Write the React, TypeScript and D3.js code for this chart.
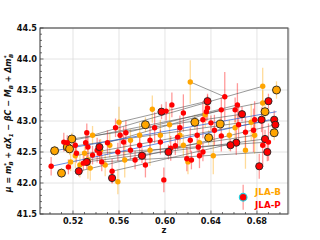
import * as d3 from "d3";

const zTicks = [0.52, 0.56, 0.6, 0.64, 0.68];
const muTicks = [41.5, 42.0, 42.5, 43.0, 43.5, 44.0, 44.5];

// [z, mu, err, ringed]
const jlaB: [number, number, number, number][] = [
  [0.504, 42.52, 0.08, 1], [0.510, 42.16, 0.08, 1], [0.515, 42.58, 0.1, 1],
  [0.517, 42.55, 0.1, 1], [0.519, 42.71, 0.1, 1], [0.518, 42.34, 0.15, 0],
  [0.522, 42.44, 0.2, 0], [0.537, 42.77, 0.15, 0], [0.533, 42.37, 0.3, 0],
  [0.535, 42.24, 0.2, 0], [0.544, 42.53, 0.18, 0], [0.559, 42.02, 0.2, 0],
  [0.560, 42.98, 0.25, 0], [0.589, 43.19, 0.22, 0], [0.622, 43.63, 0.35, 0],
  [0.685, 43.56, 0.3, 0], [0.697, 43.50, 0.14, 1], [0.685, 43.29, 0.2, 0],
  [0.687, 43.15, 0.12, 1], [0.675, 42.98, 0.3, 0], [0.695, 42.81, 0.12, 1],
  [0.670, 42.53, 0.3, 0], [0.638, 42.73, 0.12, 1], [0.642, 42.44, 0.3, 0],
  [0.620, 42.34, 0.2, 0], [0.616, 42.61, 0.18, 0], [0.630, 42.65, 0.15, 0],
  [0.626, 42.98, 0.12, 1], [0.648, 42.95, 0.1, 1], [0.635, 43.10, 0.2, 0],
  [0.570, 42.69, 0.18, 0], [0.578, 42.77, 0.2, 0], [0.552, 42.61, 0.2, 0],
  [0.565, 42.37, 0.28, 0], [0.587, 42.53, 0.25, 0], [0.596, 42.77, 0.25, 0],
  [0.604, 42.94, 0.3, 0], [0.583, 42.94, 0.12, 1], [0.661, 42.89, 0.2, 0],
  [0.678, 42.77, 0.3, 0], [0.530, 42.48, 0.15, 0], [0.548, 42.29, 0.18, 0],
  [0.526, 42.29, 0.2, 0], [0.613, 42.77, 0.2, 0], [0.656, 42.77, 0.25, 0],
];

const jlaP: [number, number, number, number][] = [
  [0.501, 42.27, 0.15, 0], [0.512, 42.66, 0.15, 0], [0.515, 42.65, 0.12, 0],
  [0.516, 42.26, 0.12, 0], [0.522, 42.61, 0.14, 0], [0.523, 42.48, 0.15, 0],
  [0.525, 42.19, 0.08, 1], [0.532, 42.81, 0.15, 0], [0.531, 42.65, 0.12, 0],
  [0.533, 42.58, 0.2, 0], [0.532, 42.34, 0.12, 1], [0.529, 42.32, 0.12, 0],
  [0.537, 42.45, 0.15, 0], [0.541, 42.53, 0.2, 0], [0.543, 42.48, 0.12, 0],
  [0.545, 42.34, 0.15, 0], [0.550, 42.65, 0.2, 0], [0.564, 42.66, 0.25, 0],
  [0.566, 42.81, 0.2, 0], [0.554, 42.08, 0.08, 1], [0.554, 42.19, 0.2, 0],
  [0.597, 43.15, 0.12, 1], [0.601, 43.16, 0.15, 0], [0.606, 43.26, 0.2, 0],
  [0.616, 43.13, 0.3, 0], [0.652, 43.39, 0.4, 0], [0.637, 43.32, 0.12, 1],
  [0.637, 43.21, 0.2, 0], [0.636, 43.15, 0.15, 0], [0.649, 43.18, 0.2, 0],
  [0.633, 43.02, 0.3, 0], [0.640, 42.97, 0.12, 0], [0.690, 43.32, 0.12, 1],
  [0.663, 43.26, 0.35, 0], [0.661, 43.18, 0.2, 0], [0.667, 43.11, 0.12, 1],
  [0.684, 43.02, 0.2, 1], [0.695, 43.02, 0.15, 1], [0.678, 43.02, 0.3, 0],
  [0.696, 42.94, 0.12, 1], [0.664, 42.94, 0.3, 0], [0.662, 42.65, 0.2, 1],
  [0.687, 42.71, 0.15, 1], [0.690, 42.66, 0.3, 0], [0.685, 42.61, 0.35, 0],
  [0.689, 42.50, 0.15, 1], [0.682, 42.27, 0.2, 1], [0.599, 42.05, 0.2, 0],
  [0.619, 42.39, 0.2, 0], [0.623, 42.37, 0.15, 0], [0.630, 42.44, 0.2, 0],
  [0.605, 42.56, 0.2, 0], [0.609, 42.60, 0.15, 0], [0.633, 42.50, 0.15, 0],
  [0.629, 42.58, 0.12, 0], [0.657, 42.61, 0.1, 1], [0.649, 42.76, 0.25, 0],
  [0.611, 42.74, 0.2, 0], [0.603, 42.50, 0.12, 1], [0.628, 42.77, 0.25, 0],
  [0.677, 42.85, 0.35, 0], [0.570, 42.53, 0.15, 0], [0.578, 42.61, 0.2, 0],
  [0.587, 42.69, 0.25, 0], [0.574, 42.37, 0.15, 0], [0.583, 42.29, 0.2, 0],
  [0.591, 42.89, 0.25, 0], [0.559, 42.50, 0.15, 0], [0.561, 42.77, 0.2, 0],
  [0.543, 42.58, 0.12, 1], [0.580, 42.44, 0.12, 1], [0.613, 42.89, 0.2, 0],
  [0.622, 42.69, 0.2, 0], [0.643, 42.85, 0.25, 0], [0.670, 42.82, 0.25, 0],
  [0.596, 42.66, 0.2, 0], [0.557, 42.89, 0.15, 0],
];

// [z1, mu1, z2, mu2]
const greyLinks: [number, number, number, number][] = [
  [0.622, 43.63, 0.652, 43.39], [0.537, 42.77, 0.685, 43.56],
  [0.560, 42.98, 0.637, 43.32], [0.512, 42.66, 0.690, 43.32],
  [0.519, 42.71, 0.667, 43.11], [0.515, 42.58, 0.684, 43.02],
  [0.522, 42.44, 0.695, 43.02], [0.525, 42.19, 0.696, 42.94],
  [0.533, 42.37, 0.678, 42.77], [0.532, 42.34, 0.687, 42.71],
  [0.543, 42.48, 0.690, 42.66], [0.545, 42.34, 0.689, 42.50],
  [0.554, 42.19, 0.662, 42.65], [0.566, 42.81, 0.663, 43.26],
  [0.550, 42.65, 0.649, 43.18],
];
const blueLinks: [number, number, number, number][] = [
  [0.501, 42.27, 0.691, 43.02], [0.504, 42.52, 0.697, 43.15],
];
const highlighted = [0.668, 41.77, 0.2];
const legendNames = ["JLA-B", "JLA-P"];

const ORANGE = "#FFA500";
const RED = "#FF0000";

export default function App() {
  const W = 320, H = 240;
  const L = 40, R = 288, T = 28, B = 214;
  const x = d3.scaleLinear().domain([0.4913, 0.707]).range([L, R]);
  const y = d3.scaleLinear().domain([41.5, 44.5]).range([B, T]);
  const font = "'DejaVu Sans', sans-serif";
  const yMinor = d3.range(41.5, 44.51, 0.1);
  const xMinor = d3.range(0.50, 0.705, 0.01);

  const errBars = (data: [number, number, number, number][], col: string) =>
    data.map((d, i) => (
      <line key={i} x1={x(d[0])} x2={x(d[0])} y1={y(d[1] - d[2])} y2={y(d[1] + d[2])}
        stroke={col} strokeOpacity={0.4} strokeWidth={1.3} />
    ));
  const dots = (data: [number, number, number, number][], col: string, big: number) =>
    data.map((d, i) => (
      <circle key={i} cx={x(d[0])} cy={y(d[1])} r={d[3] ? big : 2.7}
        fill={col} stroke={d[3] ? "#222" : "none"} strokeWidth={d[3] ? 0.9 : 0} />
    ));

  return (
    <svg width={W} height={H} style={{ position: "absolute", left: 0, top: 0 }} fontFamily={font}>
      <rect x={0} y={0} width={W} height={H} fill="#fff" />
      {zTicks.map(t => (
        <line key={t} x1={x(t)} x2={x(t)} y1={T} y2={B} stroke="#ddd" strokeWidth={0.8} />
      ))}
      {muTicks.map(t => (
        <line key={t} x1={L} x2={R} y1={y(t)} y2={y(t)} stroke="#ddd" strokeWidth={0.8} />
      ))}
      {errBars(jlaB, ORANGE)}
      {errBars(jlaP, RED)}
      <line x1={x(highlighted[0])} x2={x(highlighted[0])}
        y1={y(highlighted[1] - highlighted[2])} y2={y(highlighted[1] + highlighted[2])}
        stroke={RED} strokeOpacity={0.4} strokeWidth={1.3} />
      {greyLinks.map((d, i) => (
        <line key={i} x1={x(d[0])} y1={y(d[1])} x2={x(d[2])} y2={y(d[3])}
          stroke="#555" strokeOpacity={0.75} strokeWidth={0.8} />
      ))}
      {blueLinks.map((d, i) => (
        <line key={i} x1={x(d[0])} y1={y(d[1])} x2={x(d[2])} y2={y(d[3])}
          stroke="#2a5fd0" strokeOpacity={0.8} strokeWidth={0.9} />
      ))}
      {dots(jlaB, ORANGE, 4.0)}
      {dots(jlaP, RED, 3.6)}
      <circle cx={x(highlighted[0])} cy={y(highlighted[1])} r={3.8} fill={RED}
        stroke="#20d0e0" strokeWidth={1.2} />

      {/* frame and ticks */}
      <rect x={L} y={T} width={R - L} height={B - T} fill="none" stroke="#333" strokeWidth={1} />
      <line x1={R + 0.5} x2={R + 0.5} y1={T} y2={B} stroke="#999" strokeWidth={1.5} />
      {yMinor.map((t, i) => (
        <line key={i} x1={L} x2={L + (i % 5 === 0 ? 3.5 : 2)} y1={y(t)} y2={y(t)} stroke="#333" strokeWidth={0.7} />
      ))}
      {xMinor.map((t, i) => (
        <line key={i} x1={x(t)} x2={x(t)} y1={B} y2={B - (i % 4 === 2 ? 3.5 : 2)} stroke="#333" strokeWidth={0.7} />
      ))}
      {muTicks.map(t => (
        <text key={t} x={L - 3} y={y(t) + 3} textAnchor="end" fontSize={8.2} fontWeight="bold" fill="#111">
          {t.toFixed(1)}
        </text>
      ))}
      {zTicks.map(t => (
        <text key={t} x={x(t)} y={B + 10} textAnchor="middle" fontSize={8.2} fontWeight="bold" fill="#111">
          {t.toFixed(2)}
        </text>
      ))}
      <text x={(L + R) / 2} y={B + 19} textAnchor="middle" fontSize={8.5} fontWeight="bold" fill="#111">z</text>
      <text transform={`translate(11,${(T + B) / 2 + 2}) rotate(-90)`} textAnchor="middle"
        fontSize={8} fontWeight="bold" fontStyle="italic" fill="#111">
        <tspan>μ = m</tspan>
        <tspan fontSize={5.5} dy={-3}>*</tspan>
        <tspan fontSize={5.5} dx={-2.5} dy={5}>B</tspan>
        <tspan dy={-2}> + αX</tspan>
        <tspan fontSize={5.5} dy={2}>1</tspan>
        <tspan dy={-2}> − βC − M</tspan>
        <tspan fontSize={5.5} dy={2}>B</tspan>
        <tspan dy={-2}> + Δm</tspan>
        <tspan fontSize={5.5} dy={-3}>*</tspan>
        <tspan fontSize={5.5} dx={-2.5} dy={5}>B</tspan>
      </text>
      {legendNames.map((n, i) => (
        <text key={n} x={255} y={195 + i * 12.5} fontSize={8.8} fontWeight="bold"
          fill={i === 0 ? ORANGE : RED}>{n}</text>
      ))}
    </svg>
  );
}
